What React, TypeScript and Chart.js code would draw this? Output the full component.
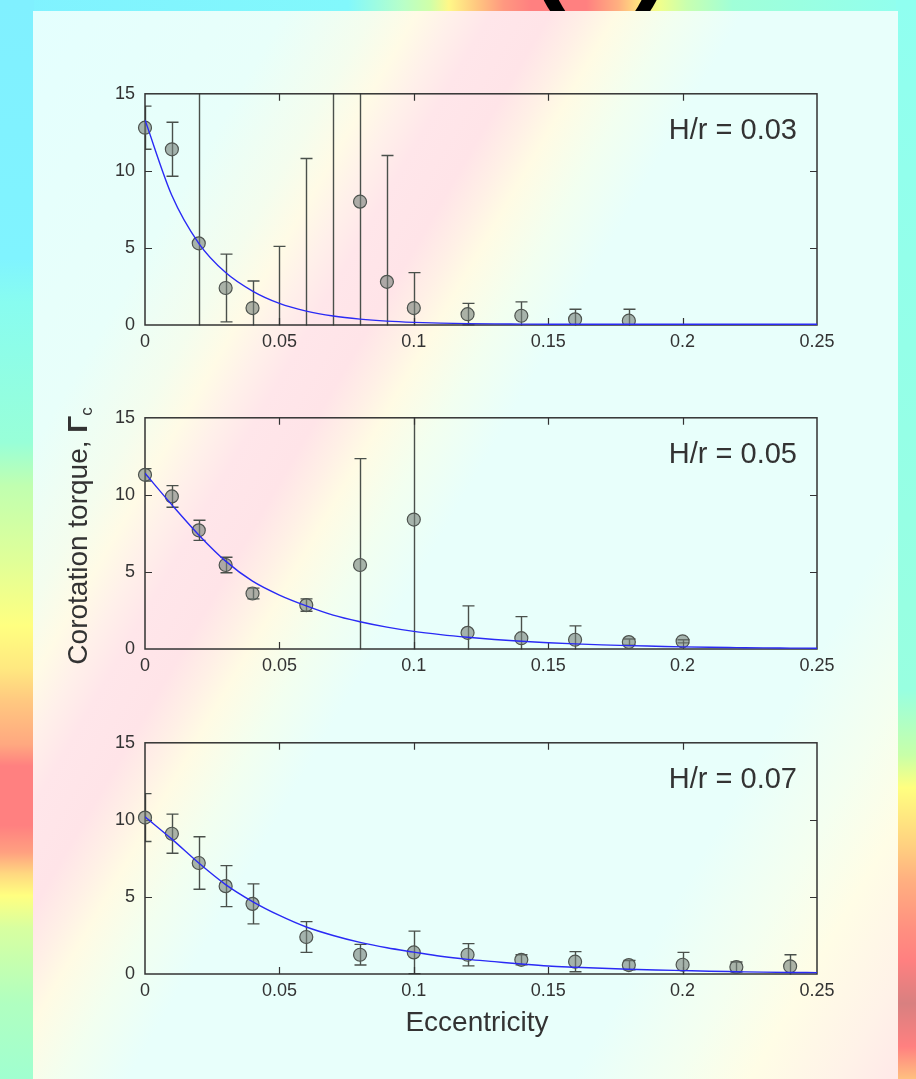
import React, { useEffect, useRef } from 'react';
import { Chart, registerables } from 'chart.js';

Chart.register(...registerables);

// ---- axis ticks ----
const xTickValues = [0, 0.05, 0.1, 0.15, 0.2, 0.25];
const xTickLabels = ['0', '0.05', '0.1', '0.15', '0.2', '0.25'];
const yTickValues = [0, 5, 10, 15];
const yTickLabels = ['0', '5', '10', '15'];

const panelLabels = ['H/r = 0.03', 'H/r = 0.05', 'H/r = 0.07'];

// ---- H/r = 0.03 ----
const ecc03 = [0, 0.01, 0.02, 0.03, 0.04, 0.05, 0.06, 0.07, 0.08, 0.09, 0.1, 0.12, 0.14, 0.16, 0.18];
const torque03 = [12.8, 11.4, 5.3, 2.4, 1.1, -1.0, -1.5, -3.0, 8.0, 2.8, 1.1, 0.7, 0.6, 0.37, 0.28];
const err03 = [1.4, 1.75, 12, 2.2, 1.75, 6.1, 12.3, 20, 10, 8.2, 2.3, 0.7, 0.9, 0.65, 0.74];

// ---- H/r = 0.05 ----
const ecc05 = [0, 0.01, 0.02, 0.03, 0.04, 0.06, 0.08, 0.1, 0.12, 0.14, 0.16, 0.18, 0.2];
const torque05 = [11.3, 9.9, 7.7, 5.45, 3.6, 2.85, 5.45, 8.4, 1.05, 0.7, 0.6, 0.45, 0.5];
const err05 = [0.4, 0.7, 0.65, 0.5, 0.35, 0.4, 6.9, 10, 1.75, 1.4, 0.9, 0.2, 0.1];

// ---- H/r = 0.07 ----
const ecc07 = [0, 0.01, 0.02, 0.03, 0.04, 0.06, 0.08, 0.1, 0.12, 0.14, 0.16, 0.18, 0.2, 0.22, 0.24];
const torque07 = [10.15, 9.1, 7.2, 5.7, 4.55, 2.4, 1.25, 1.4, 1.25, 0.92, 0.8, 0.58, 0.6, 0.45, 0.5];
const err07 = [1.55, 1.27, 1.7, 1.33, 1.3, 1.0, 0.67, 1.38, 0.72, 0.33, 0.65, 0.3, 0.8, 0.33, 0.75];

// ---- fitted curves ----
const fitEcc = [0, 0.01, 0.02, 0.03, 0.04, 0.05, 0.06, 0.07, 0.08, 0.09, 0.1, 0.11, 0.12, 0.13, 0.14, 0.15, 0.16, 0.17, 0.18, 0.19, 0.2, 0.21, 0.22, 0.23, 0.24, 0.25];
const fit03 = [13.3, 8.4, 5.3, 3.4, 2.2, 1.4, 0.9, 0.58, 0.38, 0.25, 0.17, 0.12, 0.09, 0.07, 0.06, 0.05, 0.05, 0.05, 0.05, 0.05, 0.05, 0.05, 0.05, 0.05, 0.05, 0.05];
const fit05 = [11.4, 9.35, 7.4, 5.7, 4.4, 3.5, 2.8, 2.2, 1.77, 1.42, 1.14, 0.93, 0.76, 0.62, 0.5, 0.41, 0.33, 0.27, 0.22, 0.18, 0.14, 0.11, 0.09, 0.07, 0.06, 0.05];
const fit07 = [10.2, 8.75, 7.2, 5.8, 4.7, 3.8, 3.05, 2.5, 2.05, 1.7, 1.42, 1.15, 0.95, 0.8, 0.65, 0.52, 0.44, 0.37, 0.31, 0.26, 0.22, 0.18, 0.15, 0.12, 0.1, 0.09];

const plotTops = [93, 417, 742];
const FONT = "'Liberation Sans', Arial, Helvetica, sans-serif";
const TEXT = '#333';

const decorPlugin = {
  id: 'decor',
  beforeDatasetsDraw(chart: any) {
    const { ctx, chartArea: a } = chart;
    const xs = chart.scales.x;
    const ys = chart.scales.y;
    const ds = chart.data.datasets[1];
    const errs: number[] = ds.errors;
    // error bars
    ctx.save();
    ctx.beginPath();
    ctx.rect(a.left, a.top - 0.5, a.right - a.left, a.bottom - a.top + 1);
    ctx.clip();
    ctx.strokeStyle = '#4a504b';
    ctx.lineWidth = 1.4;
    ds.data.forEach((p: any, i: number) => {
      const e = errs[i];
      const px = Math.round(xs.getPixelForValue(p.x)) + 0.5;
      const yt = ys.getPixelForValue(p.y + e);
      const yb = ys.getPixelForValue(p.y - e);
      ctx.beginPath();
      ctx.moveTo(px, yt);
      ctx.lineTo(px, yb);
      ctx.moveTo(px - 6, yt);
      ctx.lineTo(px + 6, yt);
      ctx.moveTo(px - 6, yb);
      ctx.lineTo(px + 6, yb);
      ctx.stroke();
    });
    ctx.restore();
    // frame + inward ticks
    ctx.save();
    ctx.strokeStyle = '#333';
    ctx.lineWidth = 1.5;
    ctx.strokeRect(a.left, a.top, a.right - a.left, a.bottom - a.top);
    ctx.lineWidth = 1.2;
    ctx.beginPath();
    xTickValues.forEach((v) => {
      if (v <= xs.min || v >= xs.max) return;
      const px = Math.round(xs.getPixelForValue(v)) + 0.5;
      ctx.moveTo(px, a.bottom);
      ctx.lineTo(px, a.bottom - 7);
      ctx.moveTo(px, a.top);
      ctx.lineTo(px, a.top + 7);
    });
    yTickValues.forEach((v) => {
      if (v <= ys.min || v >= ys.max) return;
      const py = Math.round(ys.getPixelForValue(v)) + 0.5;
      ctx.moveTo(a.left, py);
      ctx.lineTo(a.left + 7, py);
      ctx.moveTo(a.right, py);
      ctx.lineTo(a.right - 7, py);
    });
    ctx.stroke();
    ctx.restore();
  },
};

function Plot(props: { top: number; ecc: number[]; torque: number[]; err: number[]; fit: number[] }) {
  const ref = useRef<HTMLCanvasElement>(null);
  useEffect(() => {
    const { ecc, torque, err, fit } = props;
    const chart = new Chart(ref.current as HTMLCanvasElement, {
      type: 'scatter',
      data: {
        datasets: [
          {
            type: 'line',
            data: fitEcc.map((x, i) => ({ x, y: fit[i] })),
            borderColor: '#2a2af5',
            borderWidth: 1.4,
            pointRadius: 0,
            cubicInterpolationMode: 'monotone',
            fill: false,
            order: 0,
          } as any,
          {
            type: 'scatter',
            data: ecc.map((x, i) => ({ x, y: torque[i] })),
            errors: err,
            pointRadius: 6.5,
            pointBackgroundColor: 'rgba(118,128,122,0.6)',
            backgroundColor: 'rgba(118,128,122,0.6)',
            pointBorderColor: '#4e544f',
            borderColor: '#4e544f',
            pointBorderWidth: 1.2,
            order: 1,
            clip: { left: 10, right: 10, top: 10, bottom: 0 },
          } as any,
        ],
      },
      options: {
        responsive: false,
        animation: false,
        events: [],
        layout: { padding: { left: 100, right: 99, top: 20, bottom: 0 } },
        plugins: { legend: { display: false }, tooltip: { enabled: false } },
        scales: {
          x: {
            type: 'linear',
            min: 0,
            max: 0.25,
            afterBuildTicks: (s: any) => {
              s.ticks = xTickValues.map((v) => ({ value: v }));
            },
            afterFit: (s: any) => {
              s.height = 40;
            },
            ticks: {
              autoSkip: false,
              maxRotation: 0,
              minRotation: 0,
              padding: 6,
              color: TEXT,
              font: { family: FONT, size: 18 },
              callback: (_v: any, i: number) => xTickLabels[i],
            },
            grid: { display: false, drawTicks: false },
            border: { display: false },
          },
          y: {
            type: 'linear',
            min: 0,
            max: 15,
            afterBuildTicks: (s: any) => {
              s.ticks = yTickValues.map((v) => ({ value: v }));
            },
            afterFit: (s: any) => {
              s.width = 45;
            },
            ticks: {
              autoSkip: false,
              padding: 10,
              color: TEXT,
              font: { family: FONT, size: 18 },
              callback: (_v: any, i: number) => yTickLabels[i],
            },
            grid: { display: false, drawTicks: false },
            border: { display: false },
          },
        },
      } as any,
      plugins: [decorPlugin],
    });
    return () => chart.destroy();
  }, []);
  return (
    <canvas
      ref={ref}
      width={916}
      height={292}
      style={{ position: 'absolute', left: 0, top: props.top - 20, width: 916, height: 292 }}
    />
  );
}

export default function App() {
  const series = [
    { ecc: ecc03, torque: torque03, err: err03, fit: fit03 },
    { ecc: ecc05, torque: torque05, err: err05, fit: fit05 },
    { ecc: ecc07, torque: torque07, err: err07, fit: fit07 },
  ];
  const abs: React.CSSProperties = { position: 'absolute' };
  return (
    <div
      style={{
        position: 'absolute',
        left: 0,
        top: 0,
        width: 916,
        height: 1079,
        overflow: 'hidden',
        background: '#84f6fa',
        fontFamily: FONT,
      }}
    >
      {/* top strip */}
      <div
        style={{
          ...abs,
          left: 0,
          top: 0,
          width: 916,
          height: 14,
          background:
            'linear-gradient(to right, #80f2ff 0%, #82f8fc 38%, #b8ffc8 44%, #d0ffa8 47%, #fff888 49%, #ffc880 52%, #ff9880 55%, #ff8080 58%, #ff8080 64%, #ffb080 67.5%, #ffe880 70%, #f0ff8c 72%, #c8ffb0 75%, #a0ffd8 80%, #90fff0 100%)',
        }}
      />
      {/* left strip */}
      <div
        style={{
          ...abs,
          left: 0,
          top: 0,
          width: 34,
          height: 1079,
          background:
            'linear-gradient(to bottom, #80f0ff 0%, #80f4ff 24%, #88fcf0 28%, #98ffd8 41%, #c0ffb0 45%, #e0ff98 52%, #ffff80 58%, #ffe880 62%, #ffc880 65%, #ffa880 69%, #ff8080 71%, #ff8080 76.5%, #ffa080 79%, #ffd880 81%, #ffff80 83%, #d8ffa0 86%, #b0ffc0 93%, #a0ffd0 100%)',
        }}
      />
      {/* right strip */}
      <div
        style={{
          ...abs,
          left: 896,
          top: 0,
          width: 20,
          height: 1079,
          background:
            'linear-gradient(to bottom, #90fff0 0%, #98ffe0 64%, #c8ffa8 70%, #ffff80 73%, #ffd080 78.4%, #ffb080 81.5%, #ff9080 86%, #ff8080 89%, #d88080 93%, #ff8080 97%, #ffc080 100%)',
        }}
      />
      {/* panel label, mostly off-page */}
      <div
        style={{
          ...abs,
          left: 530,
          top: -103,
          fontSize: 110,
          lineHeight: '110px',
          fontWeight: 'bold',
          color: '#000',
          whiteSpace: 'nowrap',
        }}
      >
        (b)
      </div>
      {/* light panel */}
      <div
        style={{
          ...abs,
          left: 33,
          top: 11,
          width: 865,
          height: 1068,
          background:
            'linear-gradient(120deg, #e4fffe 0%, #e8fffa 17%, #f4fdee 23%, #fffbe6 26%, #fff0ea 28.5%, #ffe6ea 31%, #ffe4e8 35%, #fff0e6 37.5%, #fffbe4 39.5%, #f2fff0 43.5%, #e8fffb 48%, #e8fffb 78%, #f4fff0 85%, #fffde6 90%, #fff2e8 96%, #ffe8e8 100%)',
        }}
      />
      {series.map((s, i) => (
        <Plot key={i} top={plotTops[i]} ecc={s.ecc} torque={s.torque} err={s.err} fit={s.fit} />
      ))}
      {panelLabels.map((t, i) => (
        <div
          key={t}
          style={{
            ...abs,
            right: 916 - 797,
            top: plotTops[i] + 19,
            fontSize: 29,
            lineHeight: '34px',
            color: TEXT,
            whiteSpace: 'nowrap',
          }}
        >
          {t}
        </div>
      ))}
      <div
        style={{
          ...abs,
          left: 477 - 200,
          top: 1006,
          width: 400,
          textAlign: 'center',
          fontSize: 28,
          lineHeight: '32px',
          color: TEXT,
        }}
      >
        Eccentricity
      </div>
      <div
        style={{
          ...abs,
          left: 78 - 160,
          top: 536 - 16,
          width: 320,
          height: 32,
          textAlign: 'center',
          fontSize: 28,
          lineHeight: '32px',
          color: TEXT,
          whiteSpace: 'nowrap',
          transform: 'rotate(-90deg)',
          transformOrigin: '50% 50%',
        }}
      >
        Corotation torque, <b style={{ fontWeight: 'bold' }}>Γ</b>
        <sub style={{ fontSize: 17, lineHeight: 0, verticalAlign: '-5px' }}>c</sub>
      </div>
    </div>
  );
}
